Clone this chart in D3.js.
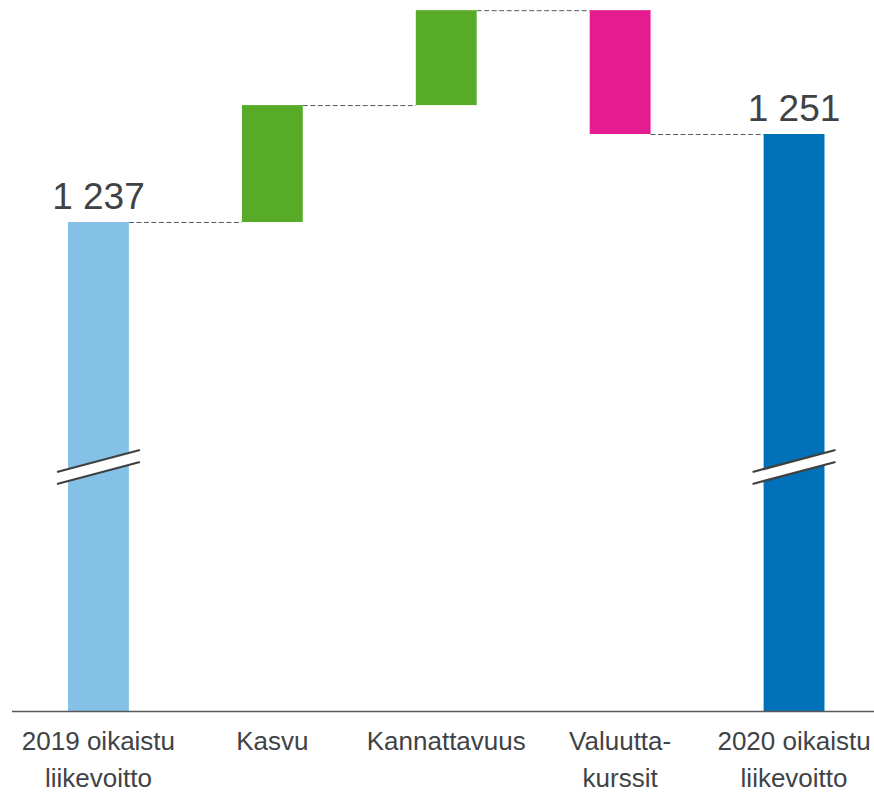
<!DOCTYPE html>
<html>
<head>
<meta charset="utf-8">
<script src="https://cdn.jsdelivr.net/npm/d3@7"></script>
<style>
  body { margin: 0; background: #fff; }
  text { font-family: "Liberation Sans", Arial, sans-serif; fill: #404346; }
</style>
</head>
<body>
<div id="chart"></div>
<script>
// Chart data
var categories = ["2019 oikaistu|liikevoitto", "Kasvu", "Kannattavuus", "Valuutta-|kurssit", "2020 oikaistu|liikevoitto"];
var changes = [1237, 18.6, 15.1, -19.7, 1251];
var kinds = ["start", "delta", "delta", "delta", "total"];
var valueLabels = ["1 237", "", "", "", "1 251"];
var colors = ["#85c1e6", "#57ab27", "#57ab27", "#e41c8f", "#0071b9"];

var svgWidth = 874;
var svgHeight = 792;
var baseY = 711;
var axisFloor = 1159.2;   // axis is broken, bars start here

var svg = d3.select("#chart").append("svg")
  .attr("width", svgWidth)
  .attr("height", svgHeight);

// build waterfall steps
var running = 0;
var steps = categories.map(function(c, i) {
  var lo, hi;
  if (kinds[i] === "start" || kinds[i] === "total") {
    lo = axisFloor;
    hi = changes[i];
    running = changes[i];
  } else {
    var prev = running;
    running = running + changes[i];
    lo = Math.min(prev, running);
    hi = Math.max(prev, running);
  }
  return { cat: c, lo: lo, hi: hi, end: running, kind: kinds[i], color: colors[i], label: valueLabels[i] };
});

var x = d3.scaleBand()
  .domain(categories)
  .range([11.5, 881])
  .paddingInner(0.65)
  .paddingOuter(0.325);

var y = d3.scaleLinear()
  .domain([axisFloor, 1251])
  .range([baseY, 134]);

// connectors
var conn = svg.append("g");
steps.forEach(function(d, i) {
  if (i === steps.length - 1) return;
  conn.append("line")
    .attr("x1", x(d.cat) + x.bandwidth())
    .attr("x2", x(steps[i + 1].cat))
    .attr("y1", y(d.end) + 0.5)
    .attr("y2", y(d.end) + 0.5)
    .attr("stroke", "#555a60")
    .attr("stroke-width", 1)
    .attr("stroke-dasharray", "5,2.5");
});

// bars
svg.append("g").selectAll("rect")
  .data(steps)
  .enter()
  .append("rect")
  .attr("x", d => x(d.cat))
  .attr("width", x.bandwidth())
  .attr("y", d => y(d.hi))
  .attr("height", d => y(d.lo) - y(d.hi))
  .attr("fill", d => d.color);

// axis break marks on the start/total bars
var breaks = svg.append("g");
steps.filter(d => d.kind !== "delta").forEach(function(d) {
  var x0 = x(d.cat) - 11;
  var x1 = x(d.cat) + x.bandwidth() + 11;
  var yl = 472, yr = 450, gap = 12;
  breaks.append("polygon")
    .attr("points", [[x0, yl], [x1, yr], [x1, yr + gap], [x0, yl + gap]].join(" "))
    .attr("fill", "#fff");
  [0, gap].forEach(function(o) {
    breaks.append("line")
      .attr("x1", x0).attr("y1", yl + o)
      .attr("x2", x1).attr("y2", yr + o)
      .attr("stroke", "#404040")
      .attr("stroke-width", 2.2);
  });
});

// value labels
svg.append("g").selectAll("text")
  .data(steps.filter(d => d.label))
  .enter()
  .append("text")
  .attr("x", d => x(d.cat) + x.bandwidth() / 2)
  .attr("y", d => y(d.hi) - 13)
  .attr("text-anchor", "middle")
  .style("font-size", "37px")
  .text(d => d.label);

// x axis line
svg.append("line")
  .attr("x1", 12)
  .attr("x2", svgWidth)
  .attr("y1", baseY + 0.5)
  .attr("y2", baseY + 0.5)
  .attr("stroke", "#595959")
  .attr("stroke-width", 1.5);

// category labels
var catLabels = svg.append("g").selectAll("text")
  .data(categories)
  .enter()
  .append("text")
  .attr("text-anchor", "middle")
  .attr("x", d => x(d) + x.bandwidth() / 2)
  .attr("y", 750)
  .style("font-size", "26px");

catLabels.each(function(d) {
  var t = d3.select(this);
  d.split("|").forEach(function(line, i) {
    t.append("tspan")
      .attr("x", x(d) + x.bandwidth() / 2)
      .attr("dy", i === 0 ? 0 : 37)
      .text(line);
  });
});
</script>
</body>
</html>
